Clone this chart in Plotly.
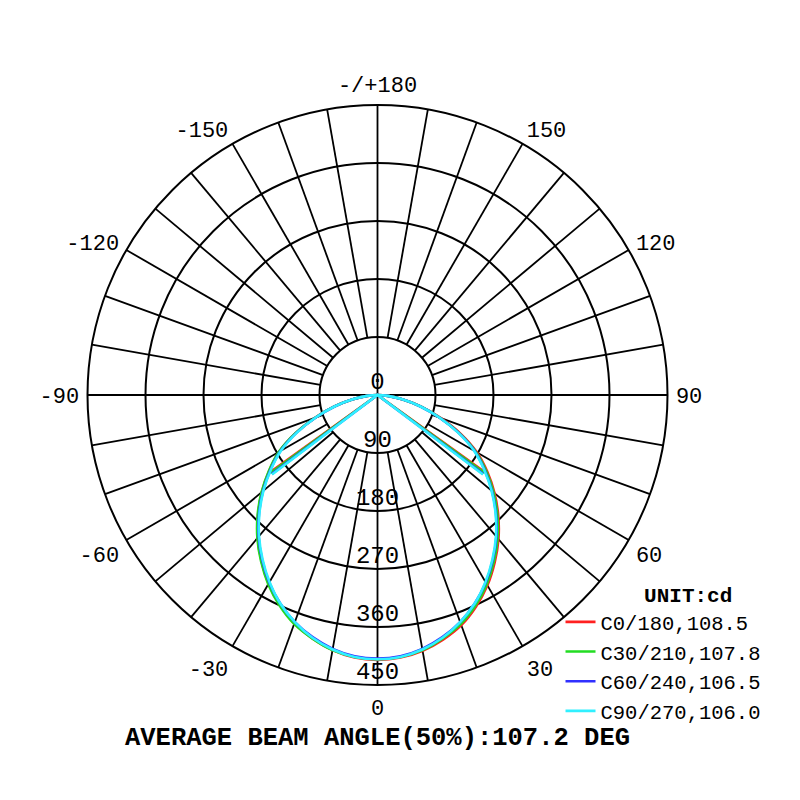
import plotly.graph_objects as go

# ---------------- data ----------------
gamma = list(range(-90, 95, 5))  # gamma angles, deg

series_names = ["C0/180", "C30/210", "C60/240", "C90/270"]
beam_angles = [108.5, 107.8, 106.5, 106.0]
series_colors = ["#ff2020", "#22dd22", "#3030ff", "#30f0ff"]

c0_180 = [0, 16, 40, 70, 103, 140, 176, 205, 234, 262, 289, 314, 338, 359, 377, 391, 402, 409,
          411,
          409, 403, 393, 380, 362, 341, 317, 292, 265, 237, 208, 178, 142, 104, 71, 40, 16, 0]
c30_210 = [0, 16, 40, 70, 103, 141, 177, 206, 235, 263, 290, 315, 339, 360, 378, 391, 402, 408,
           410,
           408, 402, 391, 378, 360, 339, 315, 290, 263, 235, 206, 176, 140, 103, 70, 40, 16, 0]
c60_240 = [0, 16, 39, 69, 102, 139, 174, 203, 232, 260, 287, 312, 336, 357, 375, 389, 400, 407,
           409,
           407, 400, 389, 375, 357, 336, 312, 287, 260, 232, 203, 174, 139, 102, 69, 39, 16, 0]
c90_270 = [0, 16, 39, 69, 102, 138, 173, 202, 231, 259, 286, 311, 335, 357, 375, 390, 401, 408,
           410,
           408, 401, 390, 375, 357, 335, 311, 286, 259, 231, 202, 173, 138, 102, 69, 39, 16, 0]
series_values = [c0_180, c30_210, c60_240, c90_270]

radial_ticks = [0, 90, 180, 270, 360, 450]
angle_tickvals = [0, 30, 60, 90, 120, 150, 180, 210, 240, 270, 300, 330]
angle_ticktext = ["0", "30", "60", "90", "120", "150", "-/+180", "-150", "-120", "-90", "-60", "-30"]
unit_label = "UNIT:cd"

FONT = "Liberation Mono"
R_MAX = 450
R_INNER = 90

fig = go.Figure()

# ---------------- grid spokes ----------------
spoke_r, spoke_t = [], []
for a in range(0, 360, 10):
    if a % 90 == 0:
        continue
    spoke_r += [R_INNER, R_MAX, None]
    spoke_t += [a, a, None]
fig.add_trace(go.Scatterpolar(r=spoke_r, theta=spoke_t, mode="lines",
                              line=dict(color="black", width=1.8),
                              hoverinfo="skip", showlegend=False))
for a in (0, 90):
    fig.add_trace(go.Scatterpolar(r=[R_MAX, 0, R_MAX], theta=[a, a, a + 180], mode="lines",
                                  line=dict(color="black", width=1.8),
                                  hoverinfo="skip", showlegend=False))

# ---------------- radial labels ----------------
fig.add_trace(go.Scatterpolar(r=radial_ticks, theta=[0] * len(radial_ticks), mode="text",
                              text=[str(v) for v in radial_ticks], textposition="top center",
                              textfont=dict(family=FONT, size=24, color="black"),
                              hoverinfo="skip", showlegend=False, cliponaxis=False))

# ---------------- curves ----------------
for name, vals, beam, col in zip(series_names, series_values, beam_angles, series_colors):
    peak = max(vals)
    fig.add_trace(go.Scatterpolar(r=vals, theta=gamma, mode="lines",
                                  line=dict(color=col, width=2.6, shape="spline", smoothing=1.0),
                                  name=f"{name},{beam}", legendgroup=name))
    fig.add_trace(go.Scatterpolar(r=[peak / 2, 0, peak / 2], theta=[-beam / 2, 0, beam / 2],
                                  mode="lines", line=dict(color=col, width=2.6),
                                  legendgroup=name, showlegend=False, hoverinfo="skip"))

avg_beam = sum(beam_angles) / len(beam_angles)

fig.update_layout(
    width=800, height=800,
    paper_bgcolor="white", plot_bgcolor="white",
    margin=dict(l=79, r=140, t=97, b=123),
    font=dict(family=FONT, color="black"),
    polar=dict(
        bgcolor="white",
        angularaxis=dict(rotation=-90, direction="counterclockwise",
                         tickmode="array", tickvals=angle_tickvals, ticktext=angle_ticktext,
                         showgrid=False, showline=True, linecolor="black", linewidth=2,
                         ticks="outside", ticklen=3, tickcolor="rgba(0,0,0,0)",
                         tickfont=dict(family=FONT, size=22, color="black")),
        radialaxis=dict(range=[0, R_MAX], tickvals=radial_ticks[1:], showticklabels=False,
                        ticks="", showline=False, gridcolor="black", gridwidth=1.8),
    ),
    legend=dict(x=0.815, y=0.19, xanchor="left", yanchor="top",
                bgcolor="rgba(0,0,0,0)", font=dict(family=FONT, size=20.5, color="black"),
                title=dict(text=f"&nbsp;&nbsp;&nbsp;&nbsp;<b>{unit_label}</b>", side="top center",
                           font=dict(family=FONT, size=21, color="black")),
                itemwidth=30, tracegroupgap=0),
    annotations=[dict(text=f"<b>AVERAGE BEAM ANGLE(50%):{avg_beam:.1f} DEG</b>",
                      x=0.5, y=-0.093, xref="paper", yref="paper", showarrow=False,
                      xanchor="center", yanchor="middle",
                      font=dict(family=FONT, size=25.5, color="black"))],
)

fig.write_html("out.html")
